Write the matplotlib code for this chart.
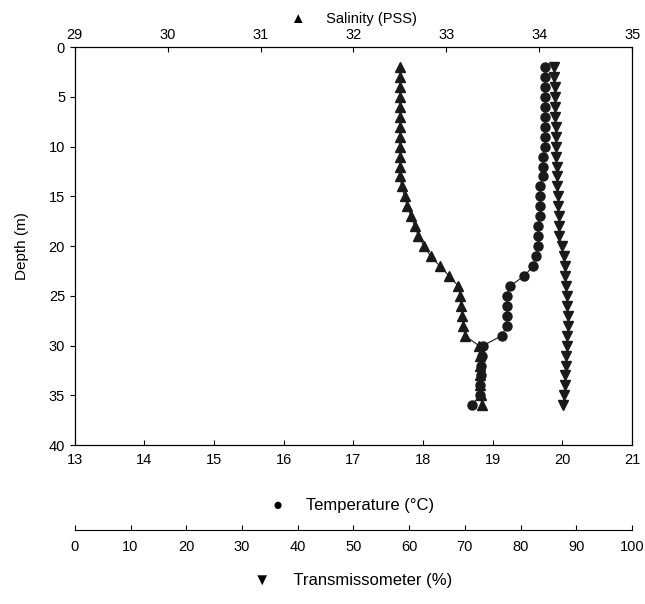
import matplotlib
matplotlib.use('Agg')
from matplotlib import pyplot as plt

plt.rcParams['font.family'] = ['Liberation Sans', 'DejaVu Sans']

# Depth of each sample (m)
depth = list(range(2, 37))

# Temperature (°C)
temperature = [19.75, 19.75, 19.75, 19.75, 19.75, 19.75, 19.75, 19.75, 19.75,
               19.72, 19.72, 19.72, 19.68, 19.68, 19.68, 19.68, 19.65, 19.65,
               19.65, 19.62, 19.58, 19.45, 19.25, 19.2, 19.2, 19.2, 19.2,
               19.13, 18.86, 18.84, 18.83, 18.83, 18.82, 18.81, 18.7]

# Salinity (PSS)
salinity = [32.5, 32.5, 32.5, 32.5, 32.5, 32.5, 32.5, 32.5, 32.5, 32.5, 32.5,
            32.5, 32.52, 32.55, 32.58, 32.62, 32.66, 32.7, 32.76, 32.83,
            32.93, 33.03, 33.13, 33.15, 33.16, 33.17, 33.18, 33.2, 33.35,
            33.36, 33.36, 33.36, 33.36, 33.37, 33.38]

# Transmissometer (%)
transmission = [86.0, 86.0, 86.1, 86.1, 86.2, 86.2, 86.3, 86.3, 86.4, 86.4,
                86.5, 86.5, 86.6, 86.7, 86.7, 86.8, 86.8, 86.9, 87.5, 87.7,
                87.9, 88.0, 88.2, 88.3, 88.4, 88.5, 88.5, 88.4, 88.3, 88.2,
                88.1, 88.0, 87.9, 87.8, 87.6]

temp_ticks = list(range(13, 22))
sal_ticks = list(range(29, 36))
trans_ticks = list(range(0, 101, 10))
depth_ticks = list(range(0, 41, 5))

ink = '#1a1a1a'
fig = plt.figure(figsize=(6.45, 6.04), dpi=100)
ax = fig.add_axes([0.116, 0.263, 0.864, 0.659])

# temperature on the main axes
ax.plot(temperature, depth, color=ink, lw=0.8, marker='o', ms=6.5)
ax.set_xlim(13, 21)
ax.set_ylim(40, 0)
ax.set_xticks(temp_ticks)
ax.set_yticks(depth_ticks)
ax.set_ylabel('Depth (m)', fontsize=11, labelpad=14)
ax.set_xlabel('\u25CF     Temperature (\u00B0C)', fontsize=12, labelpad=22)
ax.tick_params(axis='x', direction='in', labelsize=10.5, pad=6)
ax.tick_params(axis='y', direction='out', labelsize=10.5)

# salinity on the top axis
ax_s = ax.twiny()
ax_s.plot(salinity, depth, color=ink, lw=0.8, marker='^', ms=6.5)
ax_s.set_xlim(29, 35)
ax_s.set_xticks(sal_ticks)
ax_s.set_xlabel('\u25B2     Salinity (PSS)', fontsize=10.5, labelpad=4)
ax_s.tick_params(axis='x', direction='in', labelsize=10.5)

# transmissometer on a second, lower axis
ax_t = ax.twiny()
ax_t.plot(transmission, depth, color=ink, lw=0.8, marker='v', ms=6.5)
ax_t.set_xlim(0, 100)
ax_t.set_xticks(trans_ticks)
ax_t.xaxis.set_ticks_position('bottom')
ax_t.xaxis.set_label_position('bottom')
for side in ['top', 'left', 'right']:
    ax_t.spines[side].set_visible(False)
ax_t.spines['bottom'].set_position(('outward', 61))
ax_t.set_xlabel('\u25BC     Transmissometer (%)', fontsize=12, labelpad=14)
ax_t.tick_params(axis='x', direction='in', labelsize=10.5, pad=7)

fig.savefig('out.png', dpi=100)
